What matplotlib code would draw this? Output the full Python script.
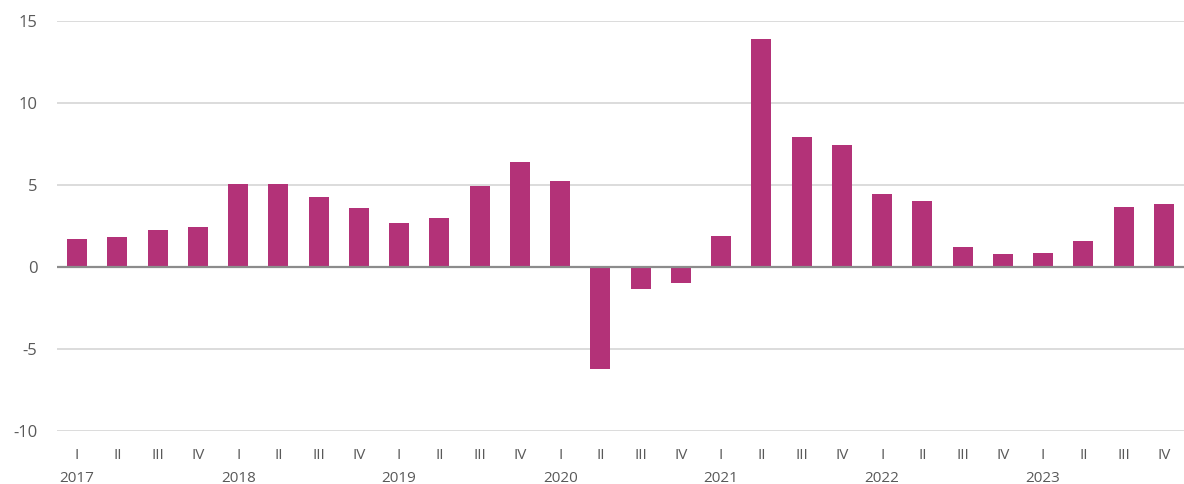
import matplotlib
matplotlib.use("Agg")
import matplotlib.pyplot as plt
import numpy as np

years = ["2017", "2018", "2019", "2020", "2021", "2022", "2023"]
quarters = ["I", "II", "III", "IV"]
values = [1.73, 1.85, 2.28, 2.46,
          5.04, 5.08, 4.29, 3.62,
          2.70, 3.01, 4.94, 6.38,
          5.26, -6.22, -1.32, -0.98,
          1.87, 13.92, 7.93, 7.46,
          4.43, 4.00, 1.24, 0.81,
          0.87, 1.59, 3.64, 3.82]
yticks = [-10, -5, 0, 5, 10, 15]

plt.rcParams['font.family'] = ['Open Sans', 'DejaVu Sans']
text_color = "#595959"
bar_color = "#B33278"

fig = plt.figure(figsize=(11.84, 4.84), dpi=100)
ax = fig.add_axes([57/1184, 1 - 431/484, 1 - 57/1184, (431 - 21)/484])

x = np.arange(len(values))
ax.bar(x, values, width=0.5, color=bar_color, zorder=2)
ax.set_xlim(-0.5, len(values) - 0.5)
ax.set_ylim(-10, 15)
ax.set_yticks(yticks)
ax.set_yticklabels([str(v) for v in yticks], color=text_color, fontsize=12)
ax.tick_params(axis='y', length=0, pad=14)
ax.set_xticks([])
for v in yticks:
    if v != 0:
        ax.axhline(v, color="#D9D9D9", lw=1.3, zorder=1)
ax.axhline(0, color="#8C8C8C", lw=1.6, zorder=3)
for s in ax.spines.values():
    s.set_visible(False)

trans = ax.get_xaxis_transform()
qlabels = [quarters[i % 4] for i in range(len(values))]
for i, q in enumerate(qlabels):
    ax.text(i, -0.06, q, transform=trans, ha='center', va='center',
            color=text_color, fontsize=11)
for j, yr in enumerate(years):
    ax.text(j * 4, -0.115, yr, transform=trans, ha='center', va='center',
            color=text_color, fontsize=11)

fig.savefig("out.png", dpi=100, facecolor="white")
